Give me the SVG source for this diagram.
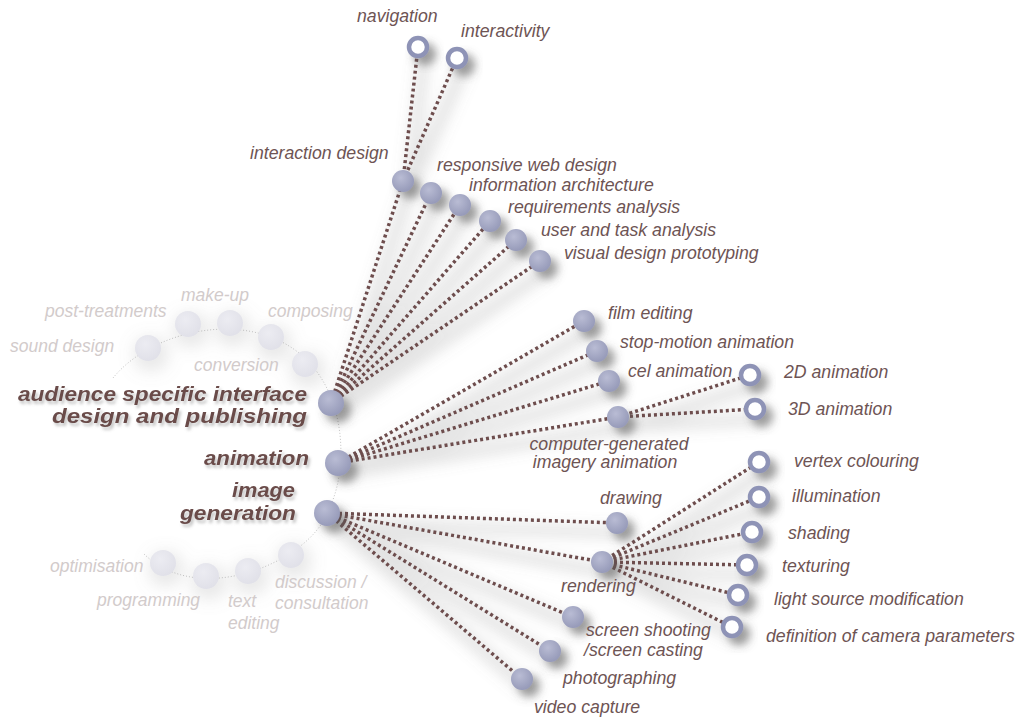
<svg xmlns="http://www.w3.org/2000/svg" width="1020" height="722" viewBox="0 0 1020 722">
<defs>
<radialGradient id="gNode" cx="0.4" cy="0.35" r="0.7">
<stop offset="0" stop-color="#b9bcd4"/>
<stop offset="1" stop-color="#9498b7"/>
</radialGradient>
<radialGradient id="gFade" cx="0.4" cy="0.35" r="0.7">
<stop offset="0" stop-color="#ececf2"/>
<stop offset="1" stop-color="#e0e0e8"/>
</radialGradient>
<filter id="fShadow" x="-60%" y="-60%" width="250%" height="250%">
<feGaussianBlur in="SourceAlpha" stdDeviation="4"/>
<feOffset dx="7" dy="7" result="b"/>
<feFlood flood-color="#555" flood-opacity="0.55"/>
<feComposite in2="b" operator="in" result="s"/>
<feMerge><feMergeNode in="s"/><feMergeNode in="SourceGraphic"/></feMerge>
</filter>
<filter id="fHalo" x="-100%" y="-100%" width="300%" height="300%">
<feMorphology in="SourceAlpha" operator="dilate" radius="4"/>
<feGaussianBlur stdDeviation="8"/>
<feOffset dx="3" dy="6" result="b"/>
<feFlood flood-color="#999" flood-opacity="0.22"/>
<feComposite in2="b" operator="in" result="s"/>
<feMerge><feMergeNode in="s"/><feMergeNode in="SourceGraphic"/></feMerge>
</filter>
<filter id="fLine" x="-20%" y="-20%" width="140%" height="140%">
<feMorphology in="SourceAlpha" operator="dilate" radius="4"/>
<feGaussianBlur stdDeviation="7"/>
<feOffset dx="6" dy="10" result="b"/>
<feFlood flood-color="#777" flood-opacity="0.2"/>
<feComposite in2="b" operator="in" result="s"/>
<feMerge><feMergeNode in="s"/><feMergeNode in="SourceGraphic"/></feMerge>
</filter>
<filter id="fText" x="-10%" y="-30%" width="120%" height="160%">
<feGaussianBlur in="SourceAlpha" stdDeviation="1.5"/>
<feOffset dx="2" dy="3" result="b"/>
<feFlood flood-color="#888" flood-opacity="0.5"/>
<feComposite in2="b" operator="in" result="s"/>
<feMerge><feMergeNode in="s"/><feMergeNode in="SourceGraphic"/></feMerge>
</filter>
</defs>
<style>
text{font-family:"Liberation Sans",Arial,sans-serif;font-style:italic}
.lbl{font-size:17.7px;fill:#6e5454}
.main{font-size:20px;font-weight:bold;fill:#6a4b49}
.fade{font-size:17.5px;fill:#d2cbcb}
.node{fill:url(#gNode)}
.ring{fill:#fff;stroke:#8e93b6;stroke-width:4.5}
.fnode{fill:url(#gFade)}
.conn line{stroke:#6e4e4e;stroke-width:3.5;stroke-dasharray:3 3}
.arc{fill:none;stroke:#c4c4c4;stroke-width:1;stroke-dasharray:1 2}
.sh{filter:url(#fShadow)}
</style>
<rect width="1020" height="722" fill="#fff"/>

<path class="arc" d="M113,378 C160,320 290,300 330,395 C345,430 345,480 327,513 C310,560 200,610 143,553"/>

<g id="faded-nodes" filter="url(#fHalo)">
<g id="n-sound-design"><circle class="fnode" cx="148" cy="348" r="13"/></g>
<g id="n-post-treatments"><circle class="fnode" cx="188" cy="324" r="13"/></g>
<g id="n-make-up"><circle class="fnode" cx="230" cy="323" r="13"/></g>
<g id="n-composing"><circle class="fnode" cx="271" cy="337" r="13"/></g>
<g id="n-conversion"><circle class="fnode" cx="305" cy="364" r="13"/></g>
<g id="n-optimisation"><circle class="fnode" cx="163" cy="563" r="13"/></g>
<g id="n-programming"><circle class="fnode" cx="206" cy="576" r="13"/></g>
<g id="n-text-editing"><circle class="fnode" cx="248" cy="571" r="13"/></g>
<g id="n-discussion"><circle class="fnode" cx="291" cy="555" r="13"/></g>
</g>
<g id="faded-labels">
<text class="fade" x="10" y="352">sound design</text>
<text class="fade" x="45" y="317">post-treatments</text>
<text class="fade" x="181" y="301">make-up</text>
<text class="fade" x="268" y="317">composing</text>
<text class="fade" x="194" y="371">conversion</text>
<text class="fade" x="50" y="572">optimisation</text>
<text class="fade" x="97" y="606">programming</text>
<text class="fade" x="228" y="607">text</text>
<text class="fade" x="228" y="629">editing</text>
<text class="fade" x="275" y="588">discussion /</text>
<text class="fade" x="275" y="609">consultation</text>
</g>

<g id="connectors" class="conn" filter="url(#fLine)">
<line x1="331" y1="403" x2="403" y2="181"/>
<line x1="331" y1="403" x2="431" y2="193"/>
<line x1="331" y1="403" x2="460" y2="205"/>
<line x1="331" y1="403" x2="490" y2="221"/>
<line x1="331" y1="403" x2="516" y2="240"/>
<line x1="331" y1="403" x2="540" y2="261"/>
<line x1="403" y1="181" x2="418" y2="47"/>
<line x1="403" y1="181" x2="457" y2="58"/>
<line x1="338" y1="463" x2="584" y2="321"/>
<line x1="338" y1="463" x2="597" y2="351"/>
<line x1="338" y1="463" x2="609" y2="381"/>
<line x1="338" y1="463" x2="618" y2="417"/>
<line x1="618" y1="417" x2="750" y2="375"/>
<line x1="618" y1="417" x2="755" y2="409"/>
<line x1="327" y1="513" x2="617" y2="523"/>
<line x1="327" y1="513" x2="602" y2="562"/>
<line x1="327" y1="513" x2="573" y2="617"/>
<line x1="327" y1="513" x2="550" y2="651"/>
<line x1="327" y1="513" x2="522" y2="679"/>
<line x1="602" y1="562" x2="759" y2="462"/>
<line x1="602" y1="562" x2="759" y2="497"/>
<line x1="602" y1="562" x2="752" y2="532"/>
<line x1="602" y1="562" x2="747" y2="565"/>
<line x1="602" y1="562" x2="738" y2="595"/>
<line x1="602" y1="562" x2="732" y2="627"/>
</g>

<g id="n-audience"><circle class="node sh" cx="331" cy="403" r="13"/>
<g filter="url(#fText)"><text class="main" x="18" y="401" textLength="289" lengthAdjust="spacingAndGlyphs">audience specific interface</text>
<text class="main" x="52" y="423" textLength="255" lengthAdjust="spacingAndGlyphs">design and publishing</text></g></g>
<g id="n-animation"><circle class="node sh" cx="338" cy="463" r="13"/>
<text class="main" x="204" y="465" textLength="105" lengthAdjust="spacingAndGlyphs" filter="url(#fText)">animation</text></g>
<g id="n-image-generation"><circle class="node sh" cx="327" cy="513" r="13"/>
<g filter="url(#fText)"><text class="main" x="232" y="497" textLength="63" lengthAdjust="spacingAndGlyphs">image</text>
<text class="main" x="180" y="520" textLength="116" lengthAdjust="spacingAndGlyphs">generation</text></g></g>

<g id="n-interaction-design"><circle class="node sh" cx="403" cy="181" r="11"/><text class="lbl" x="250" y="159">interaction design</text></g>
<g id="n-responsive"><circle class="node sh" cx="431" cy="193" r="11"/><text class="lbl" x="437" y="171">responsive web design</text></g>
<g id="n-info-arch"><circle class="node sh" cx="460" cy="205" r="11"/><text class="lbl" x="469" y="191">information architecture</text></g>
<g id="n-requirements"><circle class="node sh" cx="490" cy="221" r="11"/><text class="lbl" x="508" y="213">requirements analysis</text></g>
<g id="n-user-task"><circle class="node sh" cx="516" cy="240" r="11"/><text class="lbl" x="541" y="236">user and task analysis</text></g>
<g id="n-visual-design"><circle class="node sh" cx="540" cy="261" r="11"/><text class="lbl" x="564" y="259">visual design prototyping</text></g>
<g id="n-navigation"><circle class="ring sh" cx="418" cy="47" r="9"/><text class="lbl" x="357" y="22">navigation</text></g>
<g id="n-interactivity"><circle class="ring sh" cx="457" cy="58" r="9"/><text class="lbl" x="461" y="37">interactivity</text></g>

<g id="n-film-editing"><circle class="node sh" cx="584" cy="321" r="11"/><text class="lbl" x="608" y="319">film editing</text></g>
<g id="n-stop-motion"><circle class="node sh" cx="597" cy="351" r="11"/><text class="lbl" x="620" y="348">stop-motion animation</text></g>
<g id="n-cel"><circle class="node sh" cx="609" cy="381" r="11"/><text class="lbl" x="628" y="377">cel animation</text></g>
<g id="n-cgi"><circle class="node sh" cx="618" cy="417" r="11"/><text class="lbl" x="609" y="450" text-anchor="middle">computer-generated</text><text class="lbl" x="605" y="468" text-anchor="middle">imagery animation</text></g>
<g id="n-2d"><circle class="ring sh" cx="750" cy="375" r="9"/><text class="lbl" x="784" y="378">2D animation</text></g>
<g id="n-3d"><circle class="ring sh" cx="755" cy="409" r="9"/><text class="lbl" x="788" y="415">3D animation</text></g>

<g id="n-drawing"><circle class="node sh" cx="617" cy="523" r="11"/><text class="lbl" x="600" y="504">drawing</text></g>
<g id="n-rendering"><circle class="node sh" cx="602" cy="562" r="11"/><text class="lbl" x="561" y="592">rendering</text></g>
<g id="n-screen"><circle class="node sh" cx="573" cy="617" r="11"/><text class="lbl" x="586" y="636">screen shooting</text><text class="lbl" x="584" y="656">/screen casting</text></g>
<g id="n-photographing"><circle class="node sh" cx="550" cy="651" r="11"/><text class="lbl" x="563" y="684">photographing</text></g>
<g id="n-video"><circle class="node sh" cx="522" cy="679" r="11"/><text class="lbl" x="534" y="713">video capture</text></g>

<g id="n-vertex"><circle class="ring sh" cx="759" cy="462" r="9"/><text class="lbl" x="794" y="467">vertex colouring</text></g>
<g id="n-illumination"><circle class="ring sh" cx="759" cy="497" r="9"/><text class="lbl" x="792" y="502">illumination</text></g>
<g id="n-shading"><circle class="ring sh" cx="752" cy="532" r="9"/><text class="lbl" x="788" y="539">shading</text></g>
<g id="n-texturing"><circle class="ring sh" cx="747" cy="565" r="9"/><text class="lbl" x="782" y="572">texturing</text></g>
<g id="n-light"><circle class="ring sh" cx="738" cy="595" r="9"/><text class="lbl" x="774" y="605">light source modification</text></g>
<g id="n-camera"><circle class="ring sh" cx="732" cy="627" r="9"/><text class="lbl" x="766" y="642">definition of camera parameters</text></g>
</svg>
